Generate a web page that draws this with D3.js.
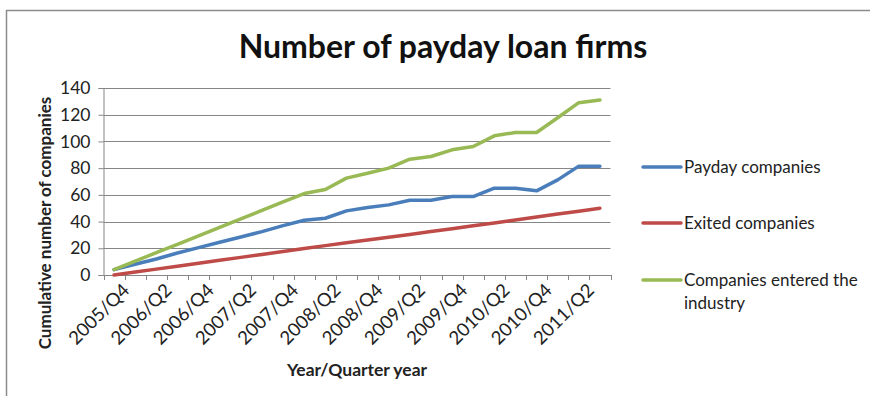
<!DOCTYPE html>
<html>
<head>
<meta charset="utf-8">
<script src="https://cdn.jsdelivr.net/npm/d3@7"></script>
<style>
  html, body { margin: 0; padding: 0; background: #fff; }
  svg { display: block; font-family: Lato, "Open Sans", sans-serif; }
</style>
</head>
<body>
<svg id="chart" width="870" height="396"></svg>
<script>
// Quarterly categories, 2005/Q4 through 2011/Q3
const quarters = [
  "2005/Q4","2006/Q1","2006/Q2","2006/Q3","2006/Q4","2007/Q1","2007/Q2","2007/Q3",
  "2007/Q4","2008/Q1","2008/Q2","2008/Q3","2008/Q4","2009/Q1","2009/Q2","2009/Q3",
  "2009/Q4","2010/Q1","2010/Q2","2010/Q3","2010/Q4","2011/Q1","2011/Q2","2011/Q3"
];
const paydayCompanies  = [4, 8, 12, 16.5, 20.5, 24.5, 28.5, 32.5, 37, 41, 42.5, 48, 50.5, 52.5, 56, 56, 58.7, 58.7, 65, 65, 63, 71.2, 81.5, 81.5];
const exitedCompanies  = [0, 2.2, 4.4, 6.6, 8.8, 11, 13.2, 15.4, 17.6, 19.8, 22, 24.1, 26.2, 28.3, 30.4, 32.5, 34.6, 36.8, 39, 41.2, 43.4, 45.6, 47.8, 50];
const enteredCompanies = [4, 10.3, 16.7, 23, 29.3, 35.7, 42, 48.3, 54.7, 61, 64, 72.5, 76.2, 80, 86.7, 88.7, 93.7, 96.2, 104.2, 106.7, 106.7, 117.7, 129, 131];
const yTicks = [0, 20, 40, 60, 80, 100, 120, 140];

const seriesNames  = ["Payday companies", "Exited companies", "Companies entered the industry"];
const seriesValues = [paydayCompanies, exitedCompanies, enteredCompanies];
const seriesColors = ["#4A7EBB", "#BE4B48", "#98B954"];

const svg = d3.select("#chart");
const axisColor = "#868686";

// outer frame (top and left edges)
svg.append("path")
  .attr("d", "M6.5,396V10.5H870")
  .attr("fill", "none").attr("stroke", "#8c8c8c").attr("stroke-width", 1.5);

const plot = { left: 103.5, right: 610.5, top: 88, bottom: 275 };

const x = d3.scaleBand().domain(quarters).range([plot.left, plot.right]).padding(0);
const y = d3.scaleLinear().domain([0, 140]).range([plot.bottom, plot.top]);
const cx = q => x(q) + x.bandwidth() / 2;

// horizontal gridlines
svg.append("g").selectAll("line").data(yTicks.filter(v => v > 0)).join("line")
  .attr("x1", plot.left).attr("x2", plot.right)
  .attr("y1", d => Math.round(y(d)) + 0.5).attr("y2", d => Math.round(y(d)) + 0.5)
  .attr("stroke", axisColor).attr("stroke-width", 1);

// y axis
const yAxis = svg.append("g")
  .attr("transform", `translate(${plot.left},0)`)
  .call(d3.axisLeft(y).tickValues(yTicks).tickSize(5).tickPadding(8).tickFormat(d3.format("d")));
yAxis.select(".domain").attr("stroke", axisColor);
yAxis.selectAll(".tick line").attr("stroke", axisColor);
yAxis.selectAll(".tick text").attr("font-size", 17.5).attr("fill", "#222").attr("font-family", "Lato, sans-serif");

// x axis with ticks at category boundaries
svg.append("line")
  .attr("x1", plot.left).attr("x2", plot.right + 1)
  .attr("y1", plot.bottom + 0.5).attr("y2", plot.bottom + 0.5)
  .attr("stroke", axisColor).attr("stroke-width", 1.2);
const boundaries = quarters.map(q => x(q)).concat([plot.right]);
svg.append("g").selectAll("line").data(boundaries).join("line")
  .attr("x1", d => Math.round(d) + 0.5).attr("x2", d => Math.round(d) + 0.5)
  .attr("y1", plot.bottom).attr("y2", plot.bottom + 5)
  .attr("stroke", axisColor).attr("stroke-width", 1);

// rotated category labels, every second quarter
svg.append("g").selectAll("text").data(quarters.filter((q, i) => i % 2 === 0)).join("text")
  .attr("transform", d => `translate(${cx(d) + 7},${plot.bottom + 7}) rotate(-45)`)
  .attr("text-anchor", "end").attr("dy", "0.72em")
  .attr("font-size", 18.5).attr("fill", "#222")
  .text(d => d);

// series lines
const line = d3.line().x((d, i) => cx(quarters[i])).y(d => y(d));
svg.append("g").selectAll("path").data(seriesValues).join("path")
  .attr("d", d => line(d))
  .attr("fill", "none")
  .attr("stroke", (d, i) => seriesColors[i])
  .attr("stroke-width", 3.5)
  .attr("stroke-linejoin", "round").attr("stroke-linecap", "round");

// title
svg.append("text")
  .attr("x", 443).attr("y", 58)
  .attr("text-anchor", "middle").attr("font-weight", "bold").attr("font-size", 32)
  .attr("fill", "#111")
  .text("Number of payday loan firms");

// axis titles
svg.append("text")
  .attr("x", 357).attr("y", 376)
  .attr("text-anchor", "middle").attr("font-weight", "bold").attr("font-size", 17.5)
  .attr("fill", "#222")
  .text("Year/Quarter year");
svg.append("text")
  .attr("transform", "translate(51,223) rotate(-90)")
  .attr("text-anchor", "middle").attr("font-weight", "bold").attr("font-size", 17)
  .attr("fill", "#222")
  .text("Cumulative number of companies");

// legend
const legendRows = [
  { lines: ["Payday companies"], y: 167 },
  { lines: ["Exited companies"], y: 223 },
  { lines: ["Companies entered the", "industry"], y: 280 }
];
const legend = svg.append("g");
legendRows.forEach((row, i) => {
  legend.append("line")
    .attr("x1", 643).attr("x2", 681).attr("y1", row.y).attr("y2", row.y)
    .attr("stroke", seriesColors[i]).attr("stroke-width", 3.5).attr("stroke-linecap", "round");
  const t = legend.append("text").attr("x", 684).attr("y", row.y + 6)
    .attr("font-size", 17).attr("fill", "#222");
  row.lines.forEach((s, j) => {
    t.append("tspan").attr("x", 684).attr("dy", j === 0 ? 0 : 23).text(s);
  });
});
</script>
</body>
</html>
